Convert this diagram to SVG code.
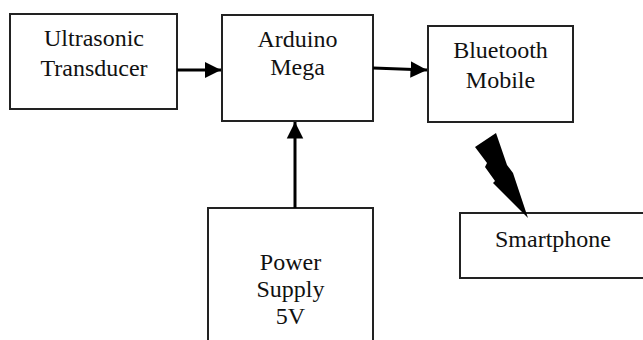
<svg xmlns="http://www.w3.org/2000/svg" width="643" height="340" viewBox="0 0 643 340">
<style>
.box{fill:#fff;stroke:#222;stroke-width:2}
.t{font-family:"Liberation Serif","Times New Roman",serif;font-size:24px;fill:#111;text-anchor:middle}
.ln{stroke:#000;stroke-width:3;fill:none}
</style>
<defs>
<marker id="ah" viewBox="0 0 10 10" refX="10" refY="5" markerWidth="5.5" markerHeight="6" markerUnits="strokeWidth" orient="auto">
<path d="M0,0 L10,5 L0,10 Z" fill="#000"/>
</marker>
</defs>
<rect width="643" height="340" fill="#fff"/>
<g id="ultrasonic">
<rect class="box" x="10" y="14" width="167" height="95"/>
<text class="t" x="94" y="46">Ultrasonic</text>
<text class="t" x="94" y="76">Transducer</text>
</g>
<g id="arduino">
<rect class="box" x="222" y="15" width="151" height="106"/>
<text class="t" x="297.5" y="47">Arduino</text>
<text class="t" x="297.5" y="75">Mega</text>
</g>
<g id="bluetooth">
<rect class="box" x="428" y="26" width="145" height="96"/>
<text class="t" x="500.5" y="58">Bluetooth</text>
<text class="t" x="500.5" y="88">Mobile</text>
</g>
<g id="power">
<rect class="box" x="208" y="208" width="165" height="140"/>
<text class="t" x="290.5" y="270">Power</text>
<text class="t" x="290.5" y="297">Supply</text>
<text class="t" x="290.5" y="324">5V</text>
</g>
<g id="smartphone">
<rect class="box" x="460" y="213" width="200" height="65"/>
<text class="t" x="553" y="247">Smartphone</text>
</g>
<g id="connectors">
<line class="ln" x1="177" y1="70" x2="221" y2="70" marker-end="url(#ah)"/>
<line class="ln" x1="373" y1="68" x2="427" y2="70" marker-end="url(#ah)"/>
<line class="ln" x1="295" y1="208" x2="295" y2="122" marker-end="url(#ah)"/>
<path d="M496,133 L507,165 L513,173 L514,176 L528,218 L493,183 L495,181 L485,167 L487,163 L475,147 Z" fill="#000"/>
</g>
</svg>
